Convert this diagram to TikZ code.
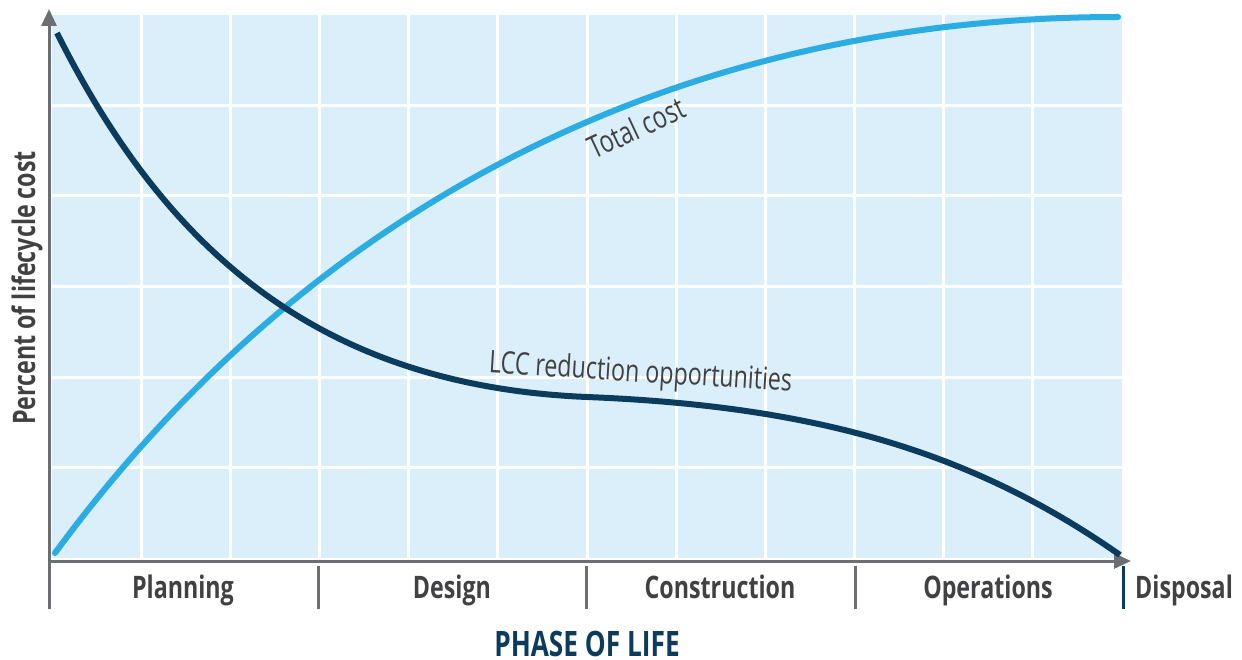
\documentclass[tikz,border=0pt]{standalone}
\usepackage{fontspec}
\usetikzlibrary{arrows.meta}
\newfontfamily\cond{Open Sans}[FakeStretch=0.75]
\definecolor{bgfill}{HTML}{DAEFFA}
\definecolor{lightc}{HTML}{2BACE3}
\definecolor{darkc}{HTML}{0B3C5D}
\definecolor{axisgray}{HTML}{6D6E71}
\definecolor{txtgray}{HTML}{414042}
\tikzset{
  axisline/.style={draw=axisgray, line width=3pt},
  gridline/.style={draw=white, line width=3pt},
  phase/.style={inner sep=0pt, text=txtgray, font=\cond\bfseries\fontsize{31}{31}\selectfont},
  curvelbl/.style={inner sep=0pt, text=txtgray, font=\cond\fontsize{31}{31}\selectfont},
}
\begin{document}
\begin{tikzpicture}[x=1pt,y=-1pt]
\useasboundingbox (0,0) rectangle (1242,660);
% background and grid
\fill[bgfill] (52,15) rectangle (1122,558);
\foreach \i in {1,...,11} {
  \draw[gridline] ({52+\i*89.17},15) -- ({52+\i*89.17},558);
}
\foreach \j in {1,...,5} {
  \draw[gridline] (52,{15+\j*90.5}) -- (1122,{15+\j*90.5});
}
% axes
\coordinate (ybot) at (49,609);
\coordinate (ytop) at (49,9);
\coordinate (xorg) at (47.5,561);
\coordinate (xend) at (1131,561);
\draw[axisline, -{Triangle[length=17pt,width=15pt]}] (ybot) -- (ytop);
\draw[axisline, -{Triangle[length=17pt,width=15pt]}] (xorg) -- (xend);
% ticks
\foreach \x/\n in {318/t1,586/t2,855/t3} {
  \coordinate (\n a) at (\x,566);
  \coordinate (\n b) at (\x,609);
  \draw[axisline] (\n a) -- (\n b);
}
\coordinate (t4a) at (1123,566);
\coordinate (t4b) at (1123,609);
\draw[draw=darkc, line width=3pt] (t4a) -- (t4b);
% curves
\coordinate (tc0) at (55,553);
\coordinate (tc1) at (1118,17);
\draw[lightc, line width=6pt, line cap=round] (tc0) .. controls (305,213) and (668,17) .. (tc1);
\coordinate (lc0) at (57,33);
\coordinate (lcm) at (587,397);
\coordinate (lc1) at (1120,555);
\draw[darkc, line width=6pt] (lc0) .. controls (167,253) and (322,386) .. (lcm)
  .. controls (812,406) and (970,450) .. (lc1);
% labels
\node[phase, anchor=base] (pl) at (183,598) {Planning};
\node[phase, anchor=base] (de) at (452,598) {Design};
\node[phase, anchor=base] (co) at (720,598) {Construction};
\node[phase, anchor=base] (op) at (988,598) {Operations};
\node[phase, anchor=base west] (di) at (1135,598) {Disposal};
\node[inner sep=0pt, text=darkc, font=\cond\bfseries\fontsize{35}{35}\selectfont, anchor=base] (pol) at (587,656) {PHASE OF LIFE};
\node[phase, rotate=90, anchor=base] (yl) at (35,288) {Percent of lifecycle cost};
\node[curvelbl, rotate=25, anchor=base] (tc) at (641,138) {Total cost};
\node[curvelbl, rotate=-3.5, anchor=base] (lcc) at (640,382) {LCC reduction opportunities};
\end{tikzpicture}
\end{document}
